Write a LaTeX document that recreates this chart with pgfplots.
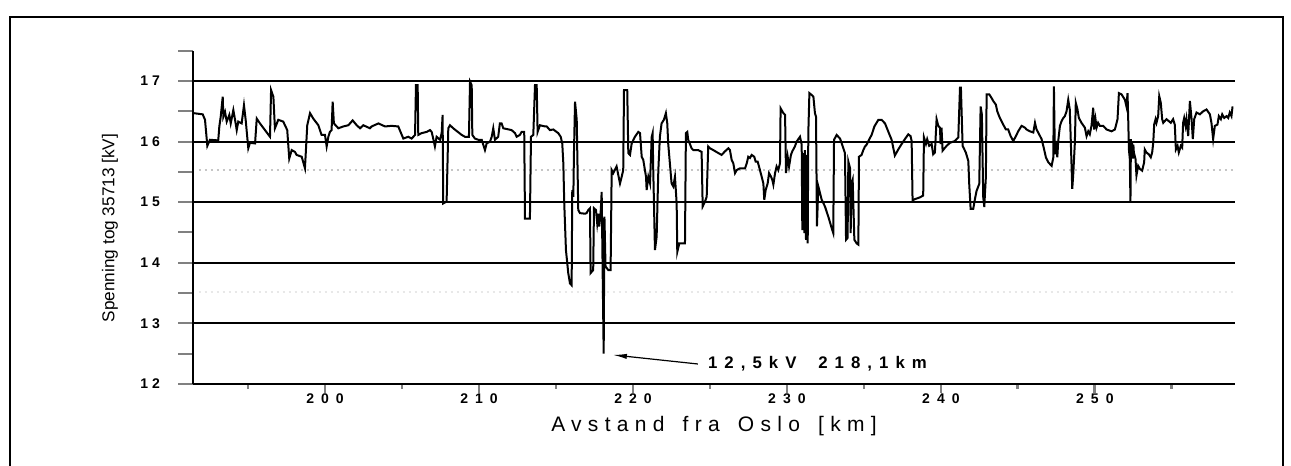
\documentclass[border=0pt]{standalone}
\usepackage{fontspec}
\setmainfont{Liberation Sans}
\newfontfamily\spacedA[LetterSpace=30]{Liberation Sans}
\newfontfamily\spacedB[LetterSpace=42]{Liberation Sans}
\usepackage{pgfplots}
\pgfplotsset{compat=1.18}
\usetikzlibrary{arrows.meta}

\begin{document}
\begin{tikzpicture}[x=1pt,y=1pt]
\useasboundingbox (0,0) rectangle (645.5,233);
\draw[line width=1pt] (5,-5) -- (5,224.5) -- (641.5,224.5) -- (641.5,-5);
\begin{axis}[
  at={(96.5pt,41pt)}, anchor=south west,
  scale only axis, width=521pt, height=166.65pt,
  xmin=191.43, xmax=259.1, ymin=12, ymax=17.5,
  axis lines*=left,
  axis line style={line width=1.2pt},
  xtick={200,210,...,250},
  minor xtick={195,205,...,255},
  ytick={12,...,17},
  minor ytick={12.5,13.5,...,17.5},
  xticklabels={2\hspace{3.5pt}0\hspace{3.5pt}0,2\hspace{3.5pt}1\hspace{3.5pt}0,2\hspace{3.5pt}2\hspace{3.5pt}0,2\hspace{3.5pt}3\hspace{3.5pt}0,2\hspace{3.5pt}4\hspace{3.5pt}0,2\hspace{3.5pt}5\hspace{3.5pt}0},
  yticklabels={1\hspace{2pt}2,1\hspace{2pt}3,1\hspace{2pt}4,1\hspace{2pt}5,1\hspace{2pt}6,1\hspace{2pt}7},
  tick align=outside,
  major tick length=7.5pt, minor tick length=7.5pt,
  xtick style={/pgfplots/major tick length=4.5pt,/pgfplots/minor tick length=2.5pt,line width=1.4pt},
  ytick style={line width=1pt},
  ymajorgrids, grid style={black, line width=1pt},
  tick label style={font=\bfseries\fontsize{7}{8}\selectfont},
  yticklabel style={xshift=-5.5pt},
  xticklabel style={yshift=6pt},
  clip=false,
]
\addplot[gray!45, dotted, line width=1pt] coordinates {(191.8,15.53) (259.0,15.53)};
\addplot[gray!18, dotted, line width=1pt] coordinates {(191.8,13.52) (259.0,13.52)};
\addplot[black, line width=1pt, sharp plot] coordinates {
(191.45,16.47) (192.06,16.45) (192.21,16.36) (192.36,15.93) (192.53,16.03) (193.07,16.02) (193.14,16.25) (193.23,16.41) (193.36,16.74) (193.40,16.41) (193.51,16.49) (193.62,16.33) (193.79,16.44) (193.88,16.30) (194.05,16.52) (194.16,16.36) (194.27,16.19) (194.37,16.33) (194.59,16.30) (194.74,16.60) (194.85,16.36) (195.02,15.89) (195.13,15.98) (195.46,15.97) (195.57,16.38) (195.78,16.30) (196.43,16.08) (196.50,16.85) (196.65,16.74) (196.75,16.22) (196.97,16.36) (197.29,16.33) (197.55,16.19) (197.68,15.72) (197.84,15.86) (198.05,15.83) (198.16,15.78) (198.49,15.75) (198.70,15.56) (198.81,16.08) (198.85,16.27) (199.03,16.47) (199.24,16.38) (199.57,16.27) (199.78,16.11) (200.00,16.11) (200.11,15.92) (200.22,16.08) (200.32,16.16) (200.43,16.19) (200.50,16.66) (200.58,16.30) (200.87,16.22) (201.19,16.25) (201.52,16.27) (201.80,16.35) (202.06,16.27) (202.28,16.22) (202.49,16.27) (202.92,16.22)
(203.03,16.25) (203.47,16.30) (203.90,16.25) (204.33,16.26) (204.76,16.25) (204.94,16.14) (205.09,16.05) (205.41,16.08) (205.63,16.05) (205.85,16.11) (205.91,16.93) (206.02,16.93) (206.06,16.11) (206.28,16.14) (206.61,16.16) (206.82,16.19) (206.93,16.16) (207.03,16.05) (207.14,15.92) (207.25,16.08) (207.47,16.03) (207.58,16.14) (207.64,16.44) (207.68,14.98) (207.90,15.01) (208.01,16.22) (208.12,16.27) (208.33,16.22) (208.88,16.11) (209.09,16.08) (209.35,16.08) (209.42,16.99) (209.53,16.93) (209.57,16.11) (209.74,16.05) (209.96,16.03) (210.18,16.03) (210.39,15.86) (210.50,15.97) (210.72,16.00) (210.83,16.08) (210.93,16.22) (211.04,16.03) (211.25,16.08) (211.36,16.30) (211.47,16.30) (211.58,16.22) (212.12,16.19) (212.34,16.14) (212.45,16.08) (212.66,16.11) (212.77,16.16) (212.94,16.16) (212.99,14.73) (213.31,14.73) (213.38,16.08) (213.53,16.11) (213.64,16.93) (213.75,16.93) (213.81,16.16) (213.96,16.27) (214.29,16.25)
(214.40,16.25) (214.61,16.19) (214.83,16.20) (215.15,16.14) (215.31,16.08) (215.41,15.97) (215.48,15.64) (215.54,14.98) (215.65,14.21) (215.80,13.83) (215.91,13.66) (216.02,13.63) (216.06,15.20) (216.13,15.09) (216.17,15.81) (216.24,16.66) (216.35,16.36) (216.45,14.87) (216.56,14.82) (216.89,14.81) (216.99,14.82) (217.10,14.87) (217.21,14.90) (217.25,13.83) (217.42,13.88) (217.47,14.90) (217.60,14.87) (217.68,14.65) (217.75,14.81) (217.81,14.60) (217.90,14.81) (217.97,15.17) (218.10,12.50) (218.15,14.76) (218.22,13.94) (218.40,13.88) (218.55,13.88) (218.62,15.53) (218.72,15.48) (218.94,15.59) (219.16,15.31) (219.27,15.42) (219.37,15.53) (219.42,16.85) (219.63,16.85) (219.70,15.81) (219.81,15.78) (219.92,15.97) (220.13,16.08) (220.35,16.16) (220.46,16.14) (220.57,15.75) (220.67,15.70) (220.85,15.42) (220.89,15.20) (221.00,15.42) (221.11,15.31) (221.22,16.08) (221.28,16.14) (221.32,15.53) (221.43,14.21) (221.54,14.43) (221.65,15.53) (221.75,16.08) (221.86,16.30) (222.01,16.36) (222.14,16.47) (222.23,16.30) (222.29,15.97) (222.51,15.31) (222.62,15.26) (222.73,15.42) (222.84,14.98) (222.88,14.18) (223.01,14.32) (223.38,14.32) (223.44,16.14) (223.53,16.16) (223.59,16.03) (223.81,15.89) (223.92,15.86) (224.24,15.86) (224.46,15.83) (224.53,14.93) (224.68,15.01) (224.79,15.09) (224.89,15.92) (225.00,15.89) (225.22,15.86)
(225.55,15.81) (225.76,15.78) (225.98,15.84) (226.20,15.89) (226.30,15.86) (226.41,15.70) (226.52,15.64) (226.63,15.48) (226.74,15.53) (226.95,15.56) (227.28,15.56) (227.39,15.64) (227.49,15.75) (227.60,15.73) (227.71,15.78) (227.88,15.75) (227.97,15.67) (228.10,15.67) (228.25,15.53) (228.36,15.42) (228.47,15.31) (228.53,15.04) (228.62,15.20) (228.75,15.31) (228.84,15.48) (228.97,15.42) (229.05,15.37) (229.12,15.29) (229.23,15.48) (229.33,15.59) (229.44,15.53) (229.55,15.64) (229.59,16.55) (229.77,16.47) (229.88,16.44) (229.94,15.48) (230.05,15.75) (230.14,15.59) (230.26,15.78) (230.35,15.84) (230.52,15.92) (230.63,16.00) (230.85,16.08) (230.96,15.95) (231.00,14.54) (231.07,15.81) (231.13,14.49) (231.17,15.86) (231.24,14.38) (231.28,15.78) (231.35,14.32) (231.39,16.14) (231.46,16.80) (231.61,16.77) (231.72,16.74) (231.82,16.47) (231.89,16.41) (231.95,14.60) (232.04,15.26) (232.26,15.04) (232.47,14.93) (232.69,14.76) (232.91,14.57) (233.01,14.49) (233.06,16.03) (233.23,16.11) (233.45,16.05) (233.56,15.97) (233.77,15.81) (233.84,14.38) (233.94,14.41) (233.99,15.67) (234.10,15.56) (234.14,14.49) (234.20,15.31) (234.27,15.37) (234.38,14.38) (234.53,14.32) (234.64,14.30) (234.68,15.75) (234.85,15.78) (234.96,15.86) (235.07,15.92) (235.18,15.95) (235.33,16.03) (235.50,16.11) (235.68,16.25) (235.94,16.36) (236.15,16.36) (236.37,16.30) (236.59,16.16) (236.80,16.03)
(237.01,15.77) (237.23,15.87) (237.45,15.96) (237.66,16.04) (237.88,16.12) (238.03,16.09) (238.10,16.01) (238.16,15.03) (238.31,15.05) (238.64,15.08) (238.85,15.11) (238.90,16.07) (239.03,15.96) (239.11,16.04) (239.24,15.93) (239.40,15.96) (239.50,15.79) (239.61,15.82) (239.72,16.37) (239.83,16.26) (239.94,16.23) (239.98,15.96) (240.04,16.23) (240.11,15.85) (240.37,15.93) (240.59,15.98) (240.91,16.01) (241.13,16.07) (241.24,16.89) (241.30,16.89) (241.41,15.93) (241.62,15.82) (241.78,15.68) (241.84,15.30) (241.93,14.89) (242.10,14.89) (242.21,15.05) (242.32,15.19) (242.49,15.30) (242.58,16.58) (242.66,16.45) (242.75,15.08) (242.82,14.92) (242.86,15.14) (242.92,15.41) (242.97,16.78) (243.14,16.78) (243.29,16.72) (243.40,16.67) (243.57,16.61) (243.66,16.50) (243.83,16.39) (244.05,16.28) (244.22,16.20) (244.37,16.20) (244.53,16.09) (244.70,16.01) (244.87,16.09) (245.02,16.17) (245.24,16.26) (245.46,16.23) (245.56,16.20) (245.78,16.17) (246.00,16.15) (246.11,16.31) (246.21,16.20) (246.32,16.15) (246.54,16.04) (246.65,15.93) (246.82,15.74) (246.97,15.66) (247.08,15.63) (247.19,15.60) (247.30,15.74) (247.34,16.91) (247.40,15.79) (247.47,16.01) (247.56,15.74) (247.62,16.01) (247.73,16.26) (247.84,16.34) (247.95,16.39) (248.05,16.42) (248.16,16.50)
(248.27,16.69) (248.37,16.53) (248.44,15.98) (248.53,15.22) (248.59,15.44) (248.70,15.98) (248.76,16.64) (248.87,16.53) (248.96,16.39) (249.13,16.31) (249.35,16.23) (249.46,16.09) (249.57,16.17) (249.67,16.12) (249.78,16.26) (249.89,16.56) (249.95,16.20) (250.04,16.37) (250.11,16.23) (250.21,16.31) (250.32,16.26) (250.54,16.26) (250.76,16.20) (251.08,16.17) (251.30,16.20) (251.47,16.37) (251.56,16.80) (251.73,16.78) (251.95,16.69) (252.05,16.58) (252.12,16.80) (252.16,16.42) (252.21,15.87) (252.27,15.71) (252.31,15.00) (252.34,16.04) (252.38,15.77) (252.42,16.00) (252.46,15.72) (252.50,15.95) (252.53,15.82) (252.64,15.71) (252.70,15.44) (252.81,15.60) (252.92,15.55) (253.07,15.52) (253.20,15.66) (253.24,15.87) (253.35,15.82) (253.50,15.79) (253.63,15.74) (253.72,15.82) (253.79,15.98) (253.85,16.28) (253.94,16.37) (254.00,16.31) (254.11,16.42) (254.18,16.75) (254.28,16.64) (254.37,16.37) (254.44,16.31) (254.65,16.37) (254.93,16.31) (255.08,16.37) (255.19,16.28) (255.26,15.87) (255.37,15.93) (255.45,15.82) (255.58,15.93) (255.67,15.90) (255.73,16.31) (255.80,16.39) (255.89,16.26) (255.95,16.37) (256.06,16.09) (256.17,16.67) (256.28,16.37) (256.36,16.04) (256.45,16.37) (256.60,16.48) (256.82,16.45) (257.03,16.50) (257.25,16.53) (257.47,16.45) (257.57,16.31) (257.68,16.04) (257.79,16.26) (257.96,16.28) (258.05,16.42) (258.18,16.37) (258.27,16.45) (258.40,16.39) (258.55,16.42) (258.66,16.39) (258.76,16.48) (258.87,16.42) (258.94,16.58)
};
\draw[line width=0.6pt, -{Latex[length=7pt,width=2.6pt]}] (axis cs:224.22,12.33) -- (axis cs:218.70,12.48);
\node[anchor=west, inner sep=0pt, font=\spacedB\bfseries\fontsize{8.4}{9}\selectfont] at (axis cs:224.85,12.33) {12,5kV\hspace{5pt} 218,1km};
\end{axis}
\node[rotate=90, font=\fontsize{8.6}{10}\selectfont] at (55,119) {Spenning tog 35713 [kV]};
\node[font=\spacedA\fontsize{10.5}{12}\selectfont] at (357,20) {Avstand\hspace{3pt} fra\hspace{3pt} Oslo\hspace{3pt} [km]};
\end{tikzpicture}
\end{document}
